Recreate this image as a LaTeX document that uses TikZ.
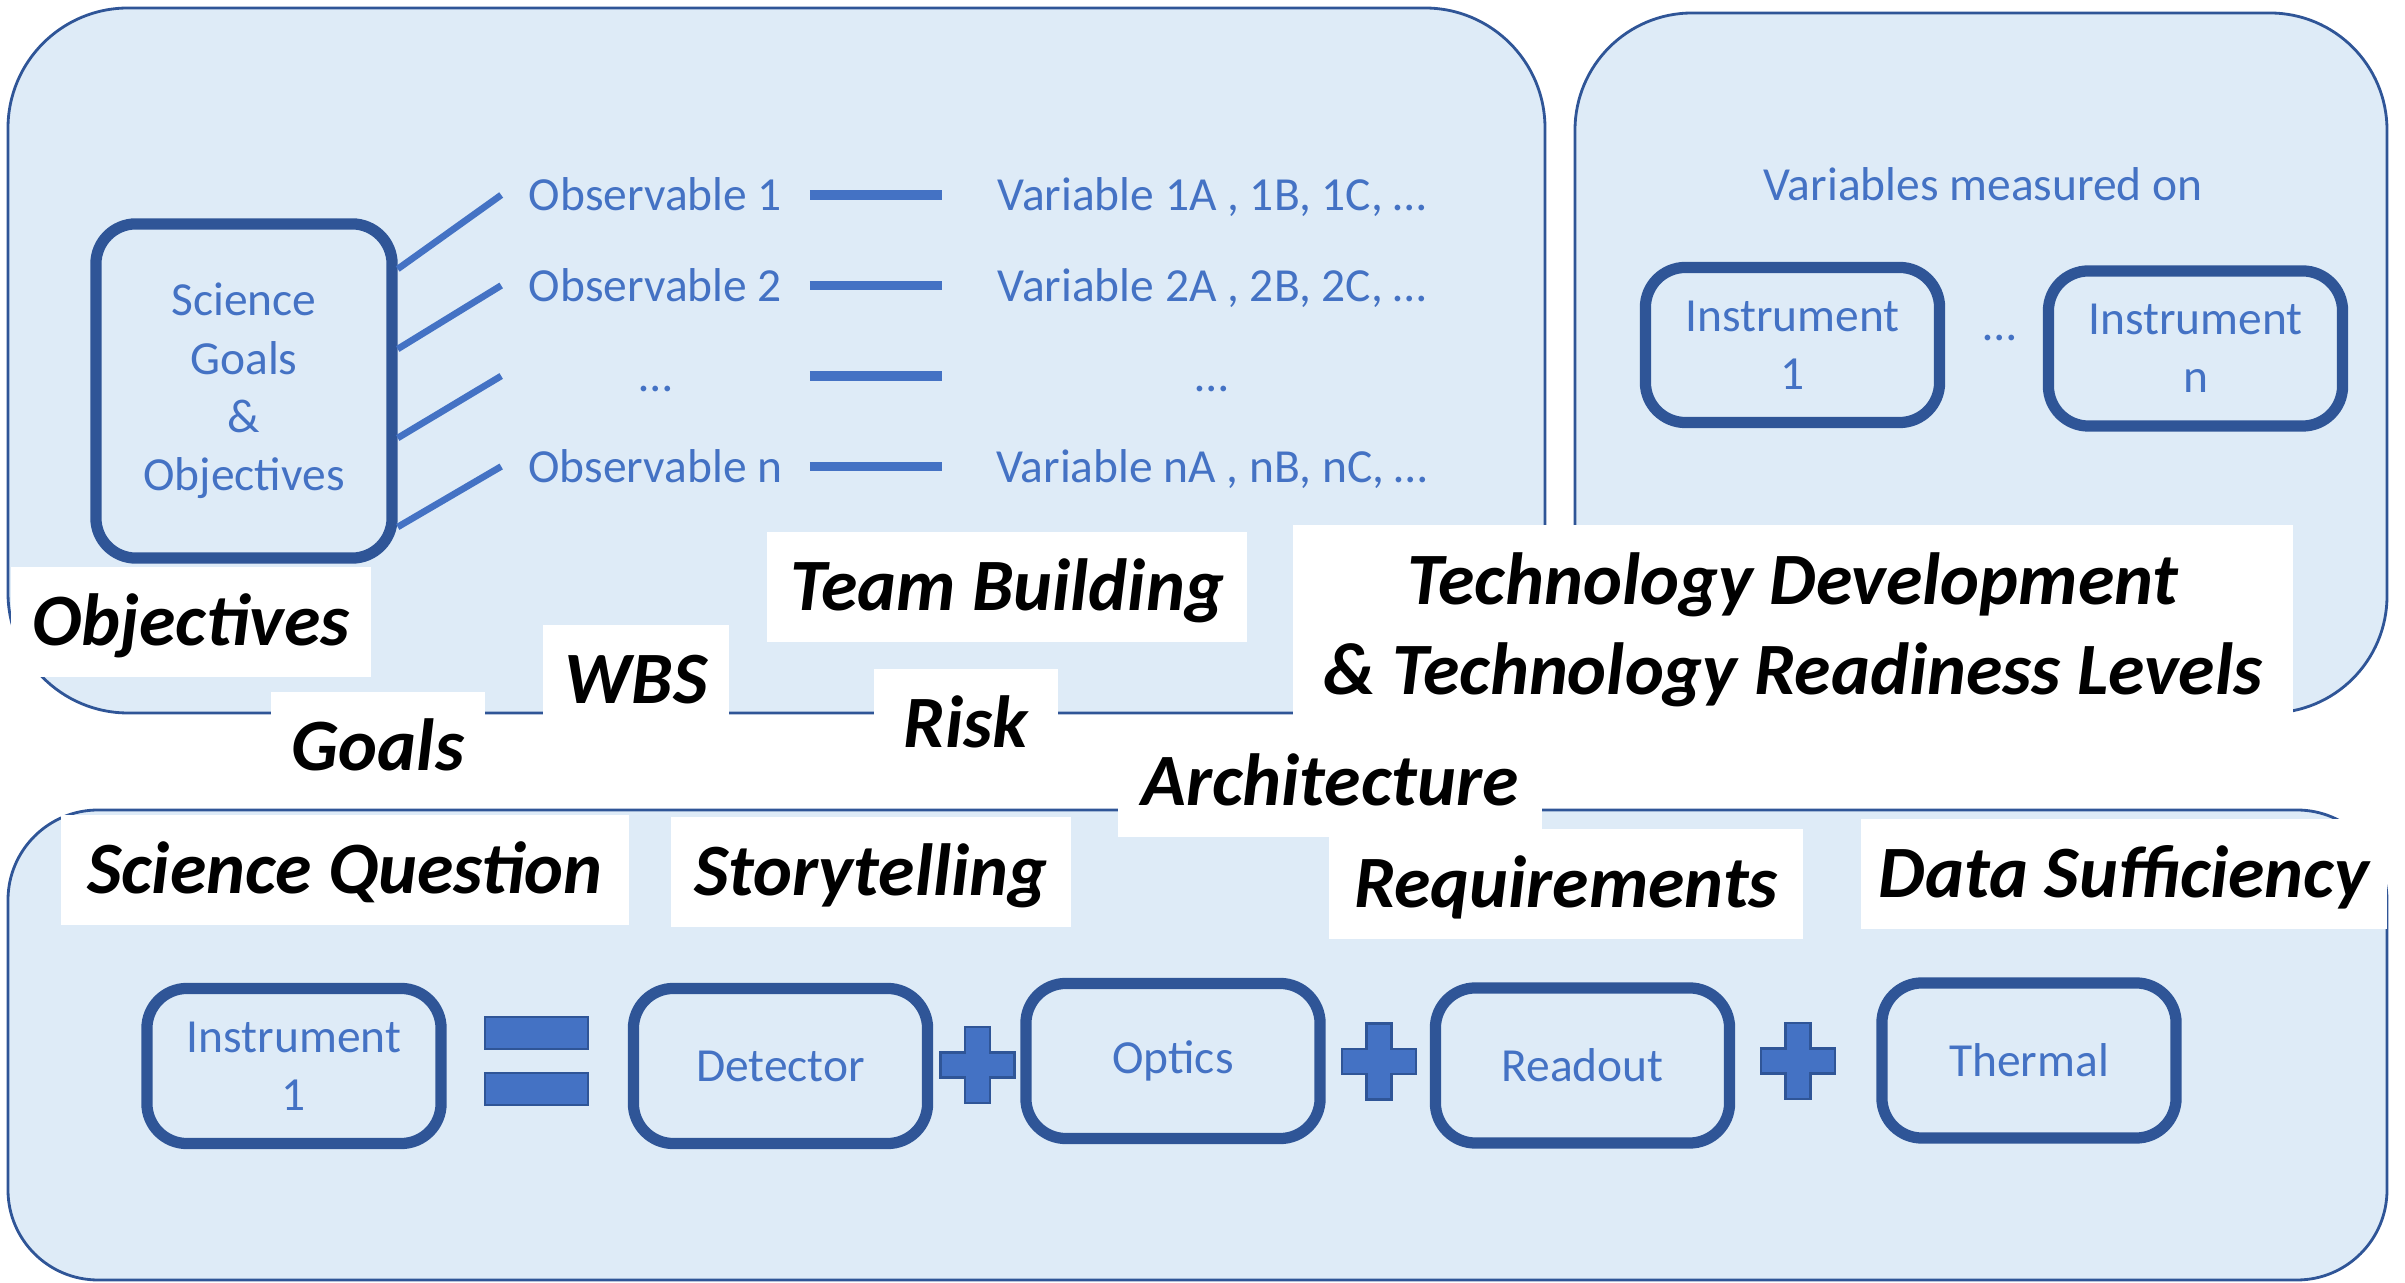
\documentclass[tikz,border=0pt]{standalone}
\usepackage{fontspec}
\setmainfont{Carlito}
\usepackage{tikz}
\usetikzlibrary{positioning}

\definecolor{panelfill}{HTML}{DEEBF7}
\definecolor{darkblue}{HTML}{2F5597}
\definecolor{midblue}{HTML}{4472C4}

\newcommand{\bluefont}{\fontsize{13.5}{16.6}\selectfont}
\newcommand{\tagfont}{\fontsize{21}{25.6}\selectfont\bfseries\itshape}

\tikzset{
  panel/.style={draw=darkblue, line width=0.8pt, fill=panelfill},
  lbl/.style={text=midblue, font=\bluefont},
  blk/.style={lbl, draw=darkblue, line width=3.2pt, rounded corners=0.4cm,
    minimum width=2.94cm, minimum height=1.55cm, align=center},
  obs/.style={lbl, minimum width=3.07cm, inner xsep=0pt, text height=9pt, text depth=0pt},
  var/.style={lbl, minimum width=5.38cm, inner xsep=0pt, text height=9pt, text depth=0pt},
  tagbox/.style={fill=white, inner sep=0pt, minimum height=1.09cm, align=center, font=\tagfont},
  tag/.style={tagbox, text height=15.4pt, text depth=1.8pt},
  link/.style={draw=midblue, line width=1.9pt},
  bar/.style={draw=midblue, line width=2.6pt},
  signfill/.style={fill=midblue, draw=darkblue, line width=0.8pt},
  plussign/.pic={
    \path[signfill] (-37,-12.5) -- (-12.5,-12.5) -- (-12.5,-38) -- (12.5,-38)
      -- (12.5,-12.5) -- (37,-12.5) -- (37,12.5) -- (12.5,12.5) -- (12.5,38)
      -- (-12.5,38) -- (-12.5,12.5) -- (-37,12.5) -- cycle;
  },
  equalsign/.pic={
    \path[signfill] (-51.5,-44) rectangle (51.5,-12);
    \path[signfill] (-51.5,12) rectangle (51.5,44);
  },
}

\begin{document}
\begin{tikzpicture}[x=0.01cm,y=-0.01cm]
\useasboundingbox (0,0) rectangle (2405,1283);

%panels
\draw[panel, rounded corners=1.2cm] (8,8) rectangle (1545,713);
\draw[panel, rounded corners=1.17cm] (1575,13) rectangle (2387,713);
\draw[panel, rounded corners=0.9cm] (8,810) rectangle (2387,1280);

%goals and observables
\node[blk, minimum width=2.96cm, minimum height=3.34cm] (sci) at (244,391) {Science\\Goals\\\&\\Objectives\hspace*{0pt}};

\node[obs] (obs1) at (655.5,195) {Observable 1};
\node[obs] (obs2) at (655.5,285.5) {Observable 2};
\node[obs] (obs3) at (655.5,376) {…};
\node[obs] (obs4) at (655.5,466.5) {Observable n};

\node[var] (var1) at (1212,195) {Variable 1A , 1B, 1C, …};
\node[var] (var2) at (1212,285.5) {Variable 2A , 2B, 2C, …};
\node[var] (var3) at (1212,376) {…};
\node[var] (var4) at (1212,466.5) {Variable nA , nB, nC, …};

\foreach \i/\y in {1/269,2/349,3/438,4/527}{
  \draw[link] (sci.east |- 0,\y) -- (obs\i.west);
  \draw[bar] (obs\i) -- (var\i);
}

%instruments
\node[lbl] (varsmeas) at (1983,184) {Variables measured on};
\node[blk] (inst1) at (1792.5,345) {Instrument\\1};
\node[blk] (instn) at (2195.5,348.5) {Instrument\\n};
\node[lbl] (instdots) at (2000,338) {…};

%instrument breakdown
\node[blk] (instr) at (294,1066) {Instrument\\1};
\node[blk] (detector) at (780.5,1066) {Detector};
\node[blk] (optics) at (1173,1061) {Optics};
\node[blk] (readout) at (1582.5,1065.5) {Readout};
\node[blk] (thermal) at (2029,1060.5) {Thermal};

\pic at (536.5,1061) {equalsign};
\pic at (977.5,1065) {plussign};
\pic at (1379,1061.5) {plussign};
\pic at (1798,1061) {plussign};

%tags
\node[tag, minimum width=3.59cm] (objectives) at (191,622) {Objectives};
\node[tag, minimum width=4.8cm] (team) at (1007,587) {Team Building};
\node[tag, minimum width=1.86cm] (wbs) at (636,680) {WBS};
\node[tag, minimum width=1.83cm] (risk) at (966,724) {Risk};
\node[tag, minimum width=2.14cm] (goals) at (378,747) {Goals};
\node[tagbox, minimum width=10cm, minimum height=2.1cm] (techdev) at (1793,630) {Technology Development\\\& Technology Readiness Levels};
\node[tag, minimum width=4.23cm] (arch) at (1330,782) {Architecture};
\node[tag, minimum width=5.67cm] (question) at (345,870) {Science Question};
\node[tag, minimum width=4cm] (story) at (871,872) {Storytelling};
\node[tag, minimum width=4.73cm] (reqs) at (1566,884) {Requirements};
\node[tag, minimum width=5.26cm] (datasuff) at (2124,874) {Data Sufficiency};

\end{tikzpicture}
\end{document}
